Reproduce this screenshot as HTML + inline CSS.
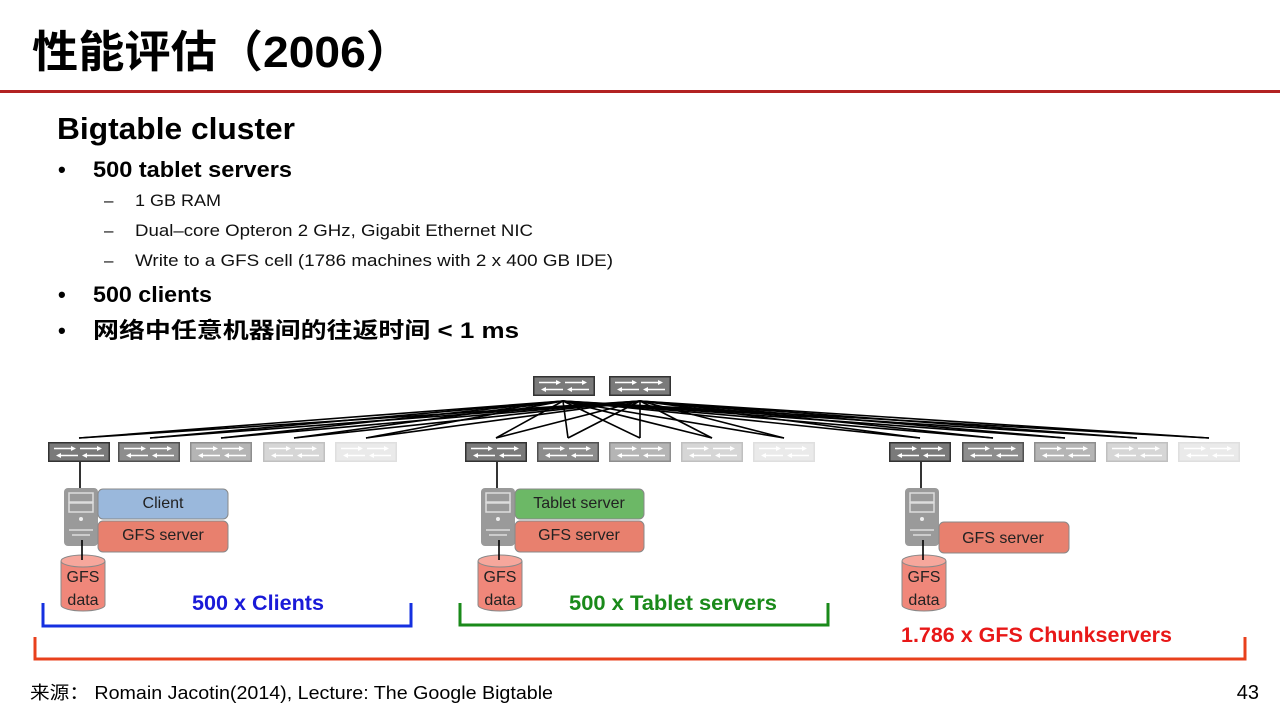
<!DOCTYPE html>
<html><head><meta charset="utf-8"><style>
html,body{margin:0;padding:0;background:#fff;width:1280px;height:720px;overflow:hidden}
</style></head><body>
<svg width="1280" height="720" viewBox="0 0 1280 720" xmlns="http://www.w3.org/2000/svg" font-family="'Liberation Sans','Noto Sans CJK SC',sans-serif">
<defs>
<symbol id="sw" viewBox="0 0 62 20" width="62" height="20">
<rect x="0.75" y="0.75" width="60.5" height="18.5" fill="#7a7a7a" stroke="#333" stroke-width="1.5"/>
<g stroke="#fff" stroke-width="1.6" fill="#fff">
<line x1="6" y1="6.5" x2="25" y2="6.5"/><polygon points="28,6.5 23,4 23,9" stroke="none"/>
<line x1="32" y1="6.5" x2="51" y2="6.5"/><polygon points="54,6.5 49,4 49,9" stroke="none"/>
<line x1="11" y1="13.5" x2="30" y2="13.5"/><polygon points="8,13.5 13,11 13,16" stroke="none"/>
<line x1="37" y1="13.5" x2="56" y2="13.5"/><polygon points="34,13.5 39,11 39,16" stroke="none"/>
</g>
</symbol>
<symbol id="srv" viewBox="0 0 34 58" width="34" height="58">
<rect x="0" y="0" width="34" height="58" rx="4" fill="#9a9a9a"/>
<rect x="5" y="5" width="24" height="9" fill="none" stroke="#ddd" stroke-width="1.5"/>
<rect x="5" y="15" width="24" height="9" fill="none" stroke="#ddd" stroke-width="1.5"/>
<circle cx="17" cy="31" r="2" fill="#eee"/>
<line x1="5" y1="42" x2="29" y2="42" stroke="#ddd" stroke-width="1.5"/>
<line x1="8" y1="47" x2="26" y2="47" stroke="#ddd" stroke-width="1.5"/>
</symbol>
<symbol id="cyl" viewBox="0 0 46 58" width="46" height="58">
<path d="M1,7 L1,51 A22,6 0 0 0 45,51 L45,7" fill="#f0877a" stroke="#888" stroke-width="1"/>
<ellipse cx="23" cy="7" rx="22" ry="6" fill="#f6a79c" stroke="#888" stroke-width="1"/>
</symbol>
</defs>

<!-- title -->
<text x="32" y="67" font-size="44" font-weight="bold" fill="#000" textLength="380" lengthAdjust="spacingAndGlyphs">性能评估（2006）</text>
<rect x="0" y="90" width="1280" height="3" fill="#b22222"/>

<text x="57" y="139" font-size="31" font-weight="bold" textLength="238" lengthAdjust="spacingAndGlyphs">Bigtable cluster</text>
<g font-size="22" font-weight="bold">
<text x="58" y="177">•</text><text x="93" y="177" textLength="199" lengthAdjust="spacingAndGlyphs">500 tablet servers</text>
<text x="58" y="302">•</text><text x="93" y="302" textLength="119" lengthAdjust="spacingAndGlyphs">500 clients</text>
<text x="58" y="338">•</text><text x="93" y="338" textLength="426" lengthAdjust="spacingAndGlyphs">网络中任意机器间的往返时间 &lt; 1 ms</text>
</g>
<g font-size="17" fill="#111">
<text x="104" y="206">–</text><text x="135" y="206" textLength="86" lengthAdjust="spacingAndGlyphs">1 GB RAM</text>
<text x="104" y="236">–</text><text x="135" y="236" textLength="398" lengthAdjust="spacingAndGlyphs">Dual–core Opteron 2 GHz, Gigabit Ethernet NIC</text>
<text x="104" y="266">–</text><text x="135" y="266" textLength="478" lengthAdjust="spacingAndGlyphs">Write to a GFS cell (1786 machines with 2 x 400 GB IDE)</text>
</g>

<!-- links -->
<g stroke="#000" stroke-width="1.6">
<line x1="563" y1="401" x2="79" y2="438"/><line x1="563" y1="401" x2="150" y2="438"/><line x1="563" y1="401" x2="221" y2="438"/><line x1="563" y1="401" x2="294" y2="438"/><line x1="563" y1="401" x2="366" y2="438"/>
<line x1="563" y1="401" x2="496" y2="438"/><line x1="563" y1="401" x2="568" y2="438"/><line x1="563" y1="401" x2="640" y2="438"/><line x1="563" y1="401" x2="712" y2="438"/><line x1="563" y1="401" x2="784" y2="438"/>
<line x1="563" y1="401" x2="920" y2="438"/><line x1="563" y1="401" x2="993" y2="438"/><line x1="563" y1="401" x2="1065" y2="438"/><line x1="563" y1="401" x2="1137" y2="438"/><line x1="563" y1="401" x2="1209" y2="438"/>
<line x1="640" y1="401" x2="79" y2="438"/><line x1="640" y1="401" x2="150" y2="438"/><line x1="640" y1="401" x2="221" y2="438"/><line x1="640" y1="401" x2="294" y2="438"/><line x1="640" y1="401" x2="366" y2="438"/>
<line x1="640" y1="401" x2="496" y2="438"/><line x1="640" y1="401" x2="568" y2="438"/><line x1="640" y1="401" x2="640" y2="438"/><line x1="640" y1="401" x2="712" y2="438"/><line x1="640" y1="401" x2="784" y2="438"/>
<line x1="640" y1="401" x2="920" y2="438"/><line x1="640" y1="401" x2="993" y2="438"/><line x1="640" y1="401" x2="1065" y2="438"/><line x1="640" y1="401" x2="1137" y2="438"/><line x1="640" y1="401" x2="1209" y2="438"/>
</g>

<!-- switches -->
<use href="#sw" x="533" y="376"/><use href="#sw" x="609" y="376"/>
<use href="#sw" x="48" y="442"/><use href="#sw" x="118" y="442" opacity="0.85"/><use href="#sw" x="190" y="442" opacity="0.55"/><use href="#sw" x="263" y="442" opacity="0.3"/><use href="#sw" x="335" y="442" opacity="0.15"/>
<use href="#sw" x="465" y="442"/><use href="#sw" x="537" y="442" opacity="0.85"/><use href="#sw" x="609" y="442" opacity="0.55"/><use href="#sw" x="681" y="442" opacity="0.3"/><use href="#sw" x="753" y="442" opacity="0.15"/>
<use href="#sw" x="889" y="442"/><use href="#sw" x="962" y="442" opacity="0.85"/><use href="#sw" x="1034" y="442" opacity="0.55"/><use href="#sw" x="1106" y="442" opacity="0.3"/><use href="#sw" x="1178" y="442" opacity="0.15"/>

<!-- group 1 -->
<line x1="80" y1="462" x2="80" y2="490" stroke="#000" stroke-width="1.6"/>
<use href="#srv" x="64" y="488"/>
<use href="#cyl" x="60" y="554"/>
<line x1="82" y1="540" x2="82" y2="560" stroke="#000" stroke-width="1.6"/>
<rect x="98" y="489" width="130" height="30" rx="5" fill="#9ab8dc" stroke="#888"/>
<rect x="98" y="521" width="130" height="31" rx="5" fill="#e8806e" stroke="#888"/>
<g font-size="16" fill="#222" text-anchor="middle">
<text x="163" y="508">Client</text><text x="163" y="540">GFS server</text>
<text x="83" y="582">GFS</text><text x="83" y="605">data</text>
</g>

<!-- group 2 -->
<line x1="497" y1="462" x2="497" y2="490" stroke="#000" stroke-width="1.6"/>
<use href="#srv" x="481" y="488"/>
<use href="#cyl" x="477" y="554"/>
<line x1="499" y1="540" x2="499" y2="560" stroke="#000" stroke-width="1.6"/>
<rect x="515" y="489" width="129" height="30" rx="5" fill="#6cb866" stroke="#888"/>
<rect x="515" y="521" width="129" height="31" rx="5" fill="#e8806e" stroke="#888"/>
<g font-size="16" fill="#222" text-anchor="middle">
<text x="579" y="508">Tablet server</text><text x="579" y="540">GFS server</text>
<text x="500" y="582">GFS</text><text x="500" y="605">data</text>
</g>

<!-- group 3 -->
<line x1="921" y1="462" x2="921" y2="490" stroke="#000" stroke-width="1.6"/>
<use href="#srv" x="905" y="488"/>
<use href="#cyl" x="901" y="554"/>
<line x1="923" y1="540" x2="923" y2="560" stroke="#000" stroke-width="1.6"/>
<rect x="939" y="522" width="130" height="31" rx="5" fill="#e8806e" stroke="#888"/>
<g font-size="16" fill="#222" text-anchor="middle">
<text x="1003" y="543">GFS server</text>
<text x="924" y="582">GFS</text><text x="924" y="605">data</text>
</g>

<!-- brackets -->
<path d="M43,603 L43,626 L411,626 L411,603" fill="none" stroke="#1530e0" stroke-width="3"/>
<path d="M460,603 L460,625 L828,625 L828,603" fill="none" stroke="#1a8a1a" stroke-width="3"/>
<path d="M35,637 L35,659 L1245,659 L1245,637" fill="none" stroke="#e8401c" stroke-width="3"/>
<g font-size="21" font-weight="bold">
<text x="192" y="610" fill="#1a1ad8" textLength="132" lengthAdjust="spacingAndGlyphs">500 x Clients</text>
<text x="569" y="610" fill="#1a8a1a" textLength="208" lengthAdjust="spacingAndGlyphs">500 x Tablet servers</text>
<text x="901" y="642" fill="#e81818" textLength="271" lengthAdjust="spacingAndGlyphs">1.786 x GFS Chunkservers</text>
</g>

<text x="30" y="699" font-size="18" fill="#000" textLength="523" lengthAdjust="spacingAndGlyphs">来源： Romain Jacotin(2014), Lecture: The Google Bigtable</text>
<text x="1259" y="699" font-size="20" text-anchor="end">43</text>
</svg>
</body></html>
